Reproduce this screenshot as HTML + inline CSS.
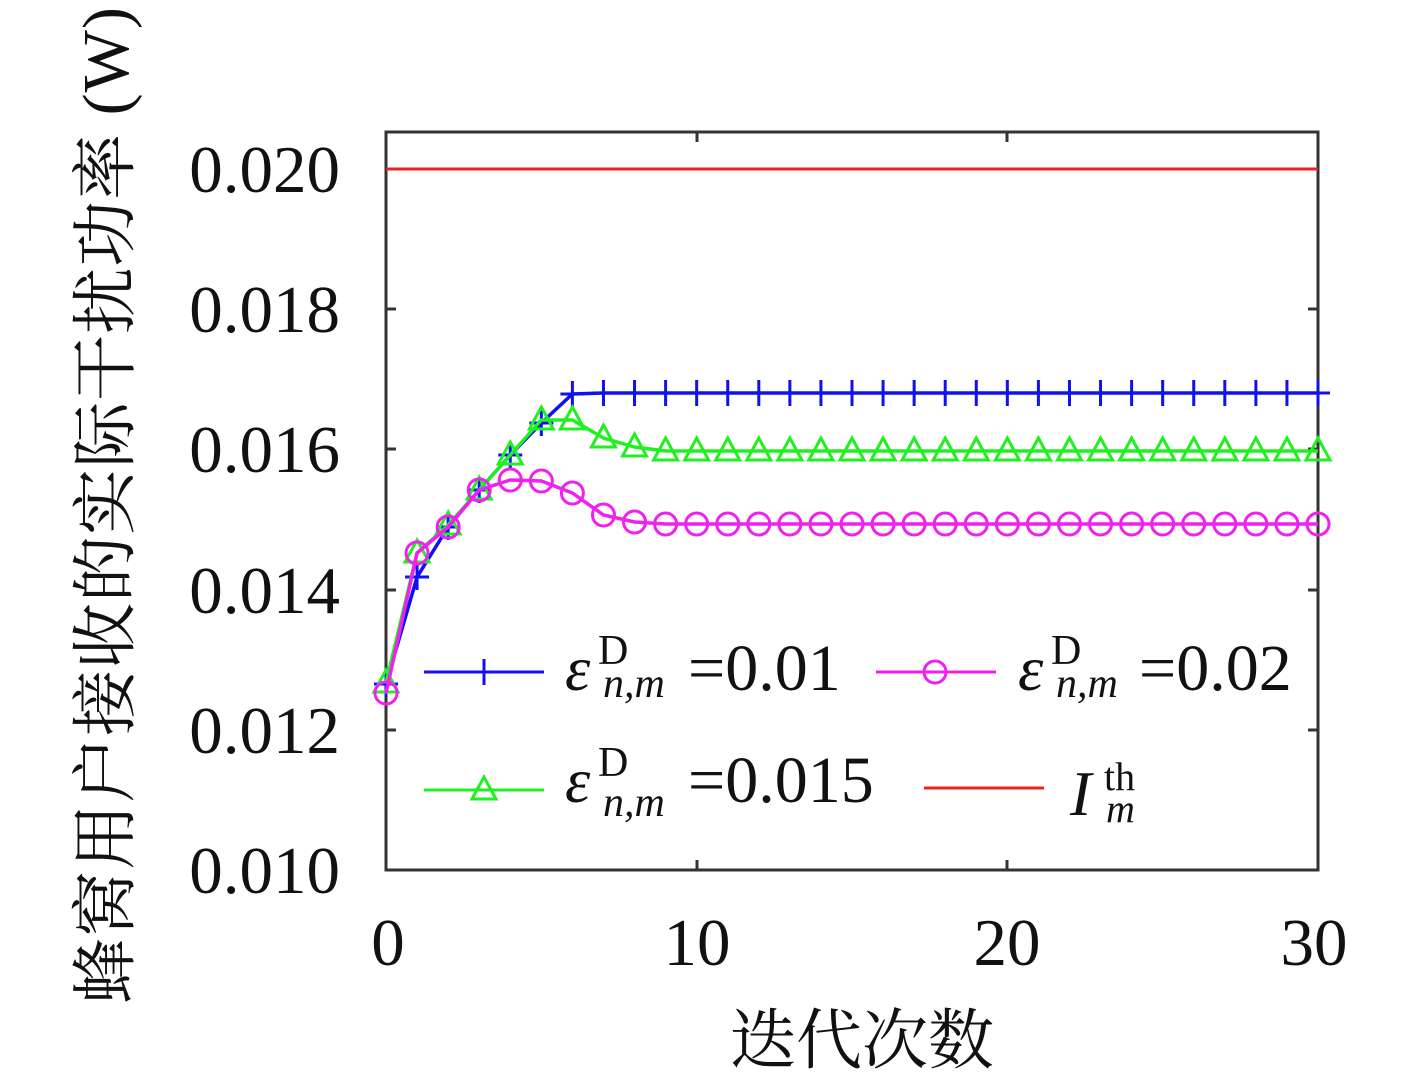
<!DOCTYPE html>
<html><head><meta charset="utf-8"><style>
html,body{margin:0;padding:0;background:#fff;}
svg{display:block;}
</style></head><body>
<svg id="s" width="1417" height="1077" xmlns="http://www.w3.org/2000/svg">
<defs>
<g id="pl"><path d="M-12,0H12M0,-13V13" stroke="#1010f0" stroke-width="3" fill="none"/></g>
<g id="ci"><circle r="11" stroke="#f020f0" stroke-width="3" fill="none"/></g>
<g id="tr"><path d="M0,-13L12,9H-12Z" stroke="#20f020" stroke-width="3" fill="none"/></g>
</defs>
<rect x="386" y="132" width="932" height="738" fill="none" stroke="#333" stroke-width="3"/>
<g stroke="#333" stroke-width="3">
<path d="M386,169h10M386,309h10M386,449h10M386,590h10M386,730h10M1318,169h-10M1318,309h-10M1318,449h-10M1318,590h-10M1318,730h-10M697,870v-10M1007,870v-10M697,132v10M1007,132v10"/>
</g>
<g font-family="Liberation Serif, serif" font-size="67" fill="#111" text-anchor="end">
<text x="340" y="192">0.020</text><text x="340" y="332">0.018</text><text x="340" y="472">0.016</text>
<text x="340" y="613">0.014</text><text x="340" y="753">0.012</text><text x="340" y="893">0.010</text>
</g>
<g font-family="Liberation Serif, serif" font-size="67" fill="#111" text-anchor="middle">
<text x="388" y="965">0</text><text x="697" y="965">10</text><text x="1007" y="965">20</text><text x="1314" y="965">30</text>
</g>
<text x="862" y="1063" font-family="'Liberation Serif','Noto Serif CJK SC',serif" font-size="66" text-anchor="middle" fill="#111">迭代次数</text>
<text transform="translate(128,505) rotate(-90)" font-family="'Liberation Serif','Noto Serif CJK SC',serif" font-size="66" letter-spacing="1" text-anchor="middle" fill="#111">蜂窝用户接收的实际干扰功率 (W)</text>
<line x1="386" y1="169" x2="1318" y2="169" stroke="#f02020" stroke-width="3"/>
<g id="series"></g>
<line x1="424" y1="672" x2="544" y2="672" stroke="#1010f0" stroke-width="3"/><use href="#pl" x="484" y="672"/>
<line x1="876" y1="672" x2="996" y2="672" stroke="#f020f0" stroke-width="3"/><use href="#ci" x="935" y="672"/>
<line x1="424" y1="790" x2="544" y2="790" stroke="#20f020" stroke-width="3"/><use href="#tr" x="484" y="790"/>
<line x1="924" y1="788" x2="1044" y2="788" stroke="#f02020" stroke-width="3"/>
<g font-family="Liberation Serif, serif" fill="#111">
<text x="565" y="690" font-size="64" font-style="italic">ε</text><text x="598" y="664" font-size="42">D</text><text x="603" y="697" font-size="42" font-style="italic">n,m</text><text x="688" y="690" font-size="66">=0.01</text>
<text x="1018" y="690" font-size="64" font-style="italic">ε</text><text x="1051" y="664" font-size="42">D</text><text x="1056" y="697" font-size="42" font-style="italic">n,m</text><text x="1139" y="690" font-size="66">=0.02</text>
<text x="565" y="802" font-size="64" font-style="italic">ε</text><text x="598" y="776" font-size="42">D</text><text x="603" y="816" font-size="42" font-style="italic">n,m</text><text x="688" y="802" font-size="66">=0.015</text>
<text x="1070" y="815" font-size="64" font-style="italic">I</text><text x="1104" y="790" font-size="40">th</text><text x="1106" y="822" font-size="40" font-style="italic">m</text>
</g>
</svg>
<script>
var X=function(i){return 386+i*31.067;};
function ext(a,v){while(a.length<31)a.push(v);return a;}
var blue=ext([684,577,527,490,455,423,394],393);
var green=ext([683,553,525,490,455,420,420,438,447],451);
var mag=ext([693,553,527,490,480,481,493,515,522],524);
var g=document.getElementById('series'),ns='http://www.w3.org/2000/svg';
function draw(d,col,mk){
 var p=document.createElementNS(ns,'polyline');
 p.setAttribute('points',d.map(function(y,i){return X(i)+','+y;}).join(' '));
 p.setAttribute('fill','none');p.setAttribute('stroke',col);p.setAttribute('stroke-width','3.5');g.appendChild(p);
 d.forEach(function(y,i){var u=document.createElementNS(ns,'use');u.setAttribute('href','#'+mk);u.setAttribute('x',X(i));u.setAttribute('y',y);g.appendChild(u);});
}
draw(blue,'#1010f0','pl');draw(green,'#20f020','tr');draw(mag,'#f020f0','ci');
</script>
</body></html>
